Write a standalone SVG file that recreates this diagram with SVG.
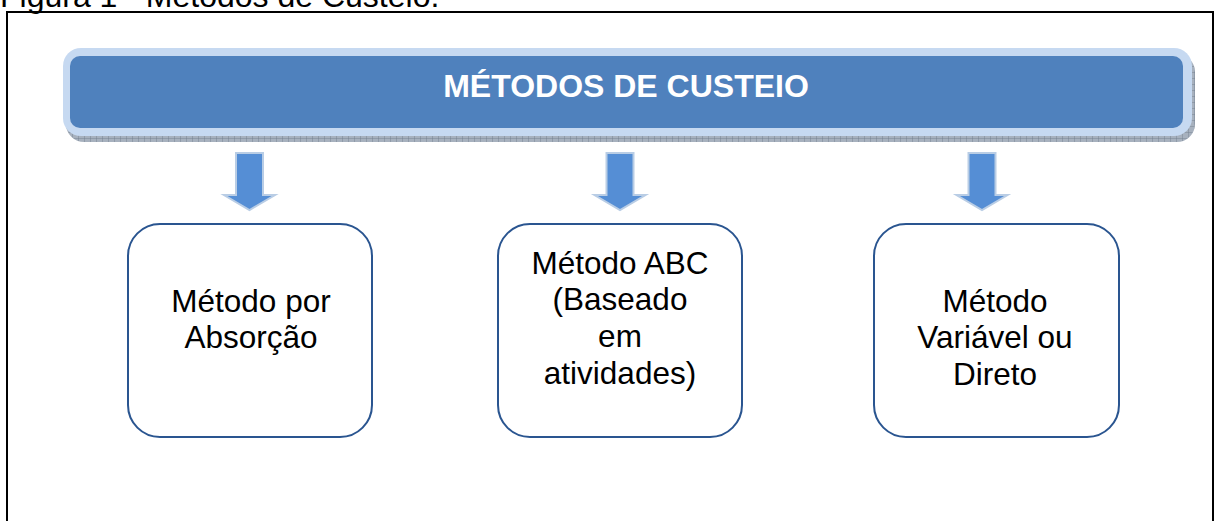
<svg xmlns="http://www.w3.org/2000/svg" width="1219" height="521" viewBox="0 0 1219 521">
  <style>
    .cap { font-family: "Liberation Sans", Arial, sans-serif; font-size: 32px; fill: #000; }
    .title { font-family: "Liberation Sans", Arial, sans-serif; font-size: 32px; font-weight: bold; fill: #fff; text-anchor: middle; }
    .lbl { font-family: "Liberation Sans", Arial, sans-serif; font-size: 31.5px; fill: #000; text-anchor: middle; }
    .box { fill: #fff; stroke: #2A5590; stroke-width: 2; }
    .arrow { fill: #558ED5; stroke: #B9CDE5; stroke-width: 2; stroke-linejoin: miter; }
  </style>
  <defs>
    <pattern id="hatch" width="6" height="6" patternUnits="userSpaceOnUse">
      <rect width="6" height="6" fill="#A7B1BE"/>
      <path d="M0 0H6M0 0V6" stroke="#6E7A89" stroke-width="0.8"/>
    </pattern>
  </defs>
  <rect width="1219" height="521" fill="#fff"/>
  <text class="cap" x="0" y="7">Figura 1 - Métodos de Custeio.</text>
  <rect x="7" y="12" width="1206" height="520" fill="none" stroke="#000" stroke-width="2"/>

  <g id="banner">
    <rect x="66" y="54" width="1129" height="88" rx="18" fill="url(#hatch)"/>
    <rect x="63" y="48" width="1129" height="88" rx="18" fill="#C6D9F1"/>
    <rect x="70" y="56" width="1113" height="72" rx="10" fill="#4F81BD"/>
    <text class="title" x="626" y="97">MÉTODOS DE CUSTEIO</text>
  </g>

  <g id="connectors">
    <path class="arrow" d="M236 153H263V195H275L249.5 210L224 195H236Z"/>
    <path class="arrow" d="M606.5 153H633.5V195H645.5L620 210L594.5 195H606.5Z"/>
    <path class="arrow" d="M968.5 153H995.5V195H1007.5L982 210L956.5 195H968.5Z"/>
  </g>

  <g id="node1">
    <rect class="box" x="128" y="224" width="244" height="213" rx="32"/>
    <text class="lbl" x="251" y="312">Método por</text>
    <text class="lbl" x="251" y="348">Absorção</text>
  </g>
  <g id="node2">
    <rect class="box" x="498" y="224" width="244" height="213" rx="32"/>
    <text class="lbl" x="620" y="274">Método ABC</text>
    <text class="lbl" x="620" y="310">(Baseado</text>
    <text class="lbl" x="620" y="347">em</text>
    <text class="lbl" x="620" y="384">atividades)</text>
  </g>
  <g id="node3">
    <rect class="box" x="874" y="224" width="245" height="213" rx="32"/>
    <text class="lbl" x="995" y="312">Método</text>
    <text class="lbl" x="995" y="348">Variável ou</text>
    <text class="lbl" x="995" y="385">Direto</text>
  </g>
</svg>
